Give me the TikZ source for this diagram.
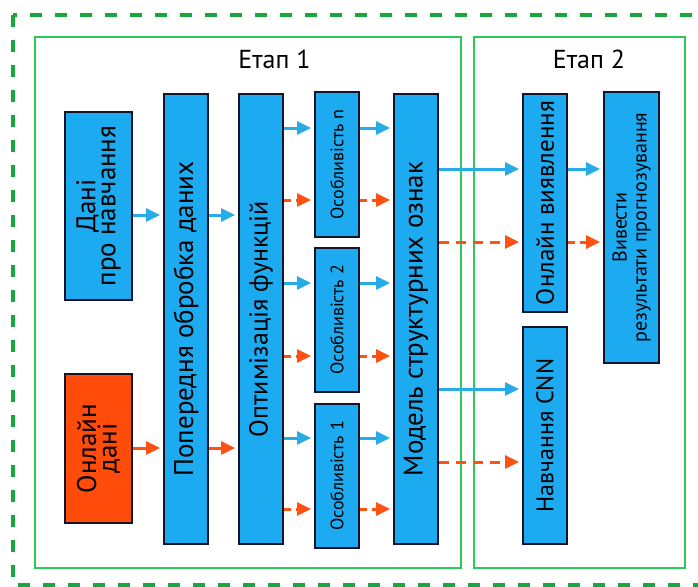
\documentclass[tikz,border=0pt]{standalone}
\usepackage{fontspec}
\setmainfont{PT Sans}
\usetikzlibrary{arrows.meta}
\definecolor{bfill}{RGB}{28,170,240}
\definecolor{ofill}{RGB}{255,76,10}
\definecolor{barr}{RGB}{40,172,232}
\definecolor{oarr}{RGB}{255,82,18}
\definecolor{gdash}{RGB}{22,168,62}
\definecolor{gline}{RGB}{45,200,90}
\definecolor{bord}{RGB}{20,20,40}
\newcommand{\fsz}[2]{\fontsize{#1}{#2}\selectfont}
\begin{document}
\begin{tikzpicture}[x=1pt,y=-1pt,
 box/.style={draw=bord, line width=1.8pt, inner sep=0pt, outer sep=0pt},
 bbox/.style={box, fill=bfill},
 obox/.style={box, fill=ofill},
 stagebox/.style={draw=gline, line width=2pt, inner sep=0pt, outer sep=0pt},
 vtxt/.style={rotate=90, inner sep=0pt, align=center, text=black},
 barrow/.style={draw=barr, line width=3pt, -{Triangle[length=14pt,width=13pt]}, shorten >=4pt, shorten <=1pt},
 oarrow/.style={barrow, draw=oarr},
 odash/.style={oarrow, dash pattern=on 7pt off 5pt},
 odashlong/.style={oarrow, dash pattern=on 10pt off 7pt},
]
\useasboundingbox (0,0) rectangle (698,586);
\begin{scope}
\clip (0,0) rectangle (698,586);
\draw[gdash, line width=4pt, dash pattern=on 12pt off 13pt] (13,15) rectangle (720,585);
\end{scope}

% stages
\node[stagebox, minimum width=426, minimum height=531] (stage1) at (248,302.5) {};
\node[stagebox, minimum width=211, minimum height=531] (stage2) at (579.5,302.5) {};
\node[anchor=base, font=\fsz{26}{30}, inner sep=0pt] (t1) at (274.5,68) {Етап 1};
\node[anchor=base, font=\fsz{26}{30}, inner sep=0pt] (t2) at (589,68) {Етап 2};

% boxes
\node[bbox, minimum width=67, minimum height=188] (dani) at (98.5,206) {};
\node[obox, minimum width=67, minimum height=149] (onl) at (98.5,448.5) {};
\node[bbox, minimum width=44, minimum height=450] (pre) at (186,319) {};
\node[bbox, minimum width=44, minimum height=450] (opt) at (261,319) {};
\node[bbox, minimum width=44, minimum height=145] (fn) at (337,164.5) {};
\node[bbox, minimum width=44, minimum height=144] (f2) at (337,320) {};
\node[bbox, minimum width=44, minimum height=144] (f1) at (337,476) {};
\node[bbox, minimum width=44, minimum height=450] (model) at (416,319) {};
\node[bbox, minimum width=44, minimum height=218] (det) at (545,203) {};
\node[bbox, minimum width=44, minimum height=217] (cnn) at (545,435.5) {};
\node[bbox, minimum width=55, minimum height=271] (out) at (631.5,227.5) {};

% texts
\node[vtxt, font=\fsz{27}{20}] (daniT) at (dani) {Дані\\про навчання};
\node[vtxt, font=\fsz{27}{17}] (onlT) at (onl) {Онлайн\\дані};
\node[vtxt, font=\fsz{27}{32}] (preT) at (pre) {Попередня обробка даних};
\node[vtxt, font=\fsz{26}{32}] (optT) at (opt) {Оптимізація функцій};
\node[vtxt, font=\fsz{18}{22}] (fnT) at (fn) {Особливість n};
\node[vtxt, font=\fsz{18}{22}] (f2T) at (f2) {Особливість 2};
\node[vtxt, font=\fsz{18}{22}] (f1T) at (f1) {Особливість 1};
\node[vtxt, font=\fsz{27}{32}] (modelT) at (model) {Модель структурних ознак};
\node[vtxt, font=\fsz{25}{28}] (detT) at (det) {Онлайн виявлення};
\node[vtxt, font=\fsz{24}{28}] (cnnT) at (cnn) {Навчання CNN};
\node[vtxt, font=\fsz{20}{20}] (outT) at (out) {Вивести\\результати прогнозування};

% arrows
\draw[barrow] (dani.east |- 0,215) -- (pre.west |- 0,215);
\draw[barrow] (pre.east |- 0,215) -- (opt.west |- 0,215);
\draw[oarrow] (onl.east |- 0,448) -- (pre.west |- 0,448);
\draw[oarrow] (pre.east |- 0,448) -- (opt.west |- 0,448);

\draw[barrow] (opt.east |- 0,128) -- (fn.west |- 0,128);
\draw[odash] (opt.east |- 0,200) -- (fn.west |- 0,200);
\draw[barrow] (opt.east |- 0,283) -- (f2.west |- 0,283);
\draw[odash] (opt.east |- 0,356) -- (f2.west |- 0,356);
\draw[barrow] (opt.east |- 0,438) -- (f1.west |- 0,438);
\draw[odash] (opt.east |- 0,509) -- (f1.west |- 0,509);

\draw[barrow] (fn.east |- 0,128) -- (model.west |- 0,128);
\draw[odash] (fn.east |- 0,200) -- (model.west |- 0,200);
\draw[barrow] (f2.east |- 0,283) -- (model.west |- 0,283);
\draw[odash] (f2.east |- 0,356) -- (model.west |- 0,356);
\draw[barrow] (f1.east |- 0,438) -- (model.west |- 0,438);
\draw[odash] (f1.east |- 0,509) -- (model.west |- 0,509);

\draw[barrow] (model.east |- 0,169) -- (det.west |- 0,169);
\draw[odashlong] (model.east |- 0,242) -- (det.west |- 0,242);
\draw[barrow] (det.east |- 0,169) -- (out.west |- 0,169);
\draw[odash] (det.east |- 0,242) -- (out.west |- 0,242);
\draw[barrow] (model.east |- 0,389) -- (cnn.west |- 0,389);
\draw[odashlong] (model.east |- 0,462) -- (cnn.west |- 0,462);
\end{tikzpicture}
\end{document}
